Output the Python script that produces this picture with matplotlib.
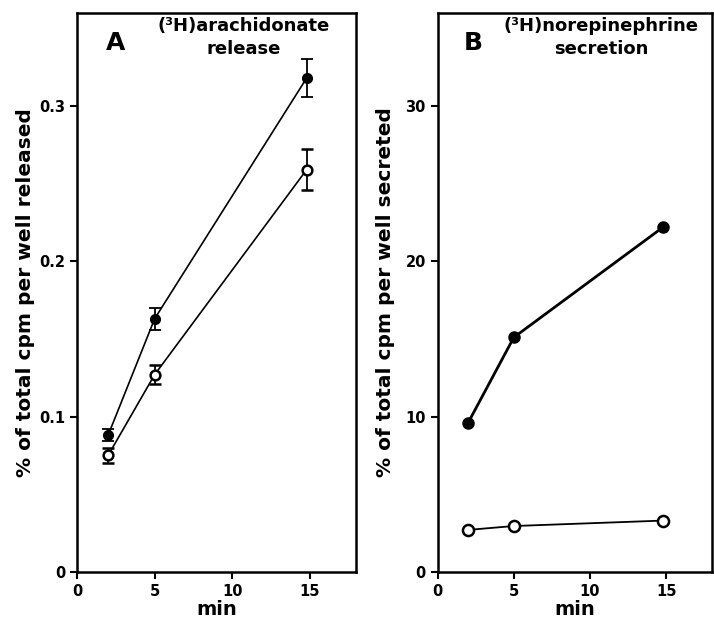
import matplotlib
matplotlib.use("Agg")
import matplotlib.pyplot as plt

plt.rcParams['font.family'] = ['DejaVu Sans']
plt.rcParams['font.weight'] = 'bold'

# time points (min)
time = [2, 5, 14.8]

# A: (3H)arachidonate release, % of total cpm per well
arach_filled = [0.088, 0.163, 0.318]
arach_filled_err = [0.004, 0.007, 0.012]
arach_open = [0.075, 0.127, 0.259]
arach_open_err = [0.005, 0.006, 0.013]

# B: (3H)norepinephrine secretion, % of total cpm per well
nor_filled = [9.6, 15.1, 22.2]
nor_open = [2.7, 2.95, 3.3]

fig = plt.figure(figsize=(7.14, 6.27), dpi=100)
axA = fig.add_axes([0.108, 0.088, 0.391, 0.8915])
axB = fig.add_axes([0.613, 0.088, 0.384, 0.8915])

#Panel A
axA.errorbar(time, arach_filled, yerr=arach_filled_err, color='black', lw=1.2,
             marker='o', ms=7, mfc='black', mec='black', capsize=4.5, elinewidth=1.3, capthick=1.3)
axA.errorbar(time, arach_open, yerr=arach_open_err, color='black', lw=1.2,
             marker='o', ms=7, mfc='white', mec='black', mew=1.8, capsize=4.5, elinewidth=1.3, capthick=1.3)
axA.set_xlim(0, 18)
axA.set_ylim(0, 0.36)
axA.set_yticks([0, 0.1, 0.2, 0.3])
axA.set_yticklabels(['0', '0.1', '0.2', '0.3'])
axA.set_ylabel('% of total cpm per well released', fontsize=14.5, fontweight='bold')
axA.yaxis.set_label_coords(-0.15, 0.5)
axA.text(0.136, 0.946, 'A', transform=axA.transAxes, fontsize=18, fontweight='bold',
         ha='center', va='center')
axA.text(0.595, 0.956, '(³H)arachidonate\nrelease', transform=axA.transAxes, fontsize=13,
         fontweight='bold', ha='center', va='center', linespacing=1.3)

#Panel B
axB.plot(time, nor_filled, color='black', lw=2, marker='o', ms=8, mfc='black', mec='black')
axB.plot(time, nor_open, color='black', lw=1.3, marker='o', ms=8, mfc='white', mec='black', mew=1.8)
axB.set_xlim(0, 18)
axB.set_ylim(0, 36)
axB.set_yticks([0, 10, 20, 30])
axB.set_ylabel('% of total cpm per well secreted', fontsize=14.5, fontweight='bold')
axB.yaxis.set_label_coords(-0.155, 0.5)
axB.text(0.128, 0.946, 'B', transform=axB.transAxes, fontsize=18, fontweight='bold',
         ha='center', va='center')
axB.text(0.595, 0.956, '(³H)norepinephrine\nsecretion', transform=axB.transAxes, fontsize=13,
         fontweight='bold', ha='center', va='center', linespacing=1.3)

for ax in [axA, axB]:
    ax.set_xticks([0, 5, 10, 15])
    ax.set_xlabel('min', fontsize=14, fontweight='bold')
    ax.xaxis.set_label_coords(0.5, -0.05)
    ax.tick_params(direction='out', length=5, width=1.5, labelsize=10.5)
    for lab in ax.get_xticklabels() + ax.get_yticklabels():
        lab.set_fontweight('bold')
    for s in ax.spines.values():
        s.set_linewidth(1.8)

fig.savefig('out.png', dpi=100)
